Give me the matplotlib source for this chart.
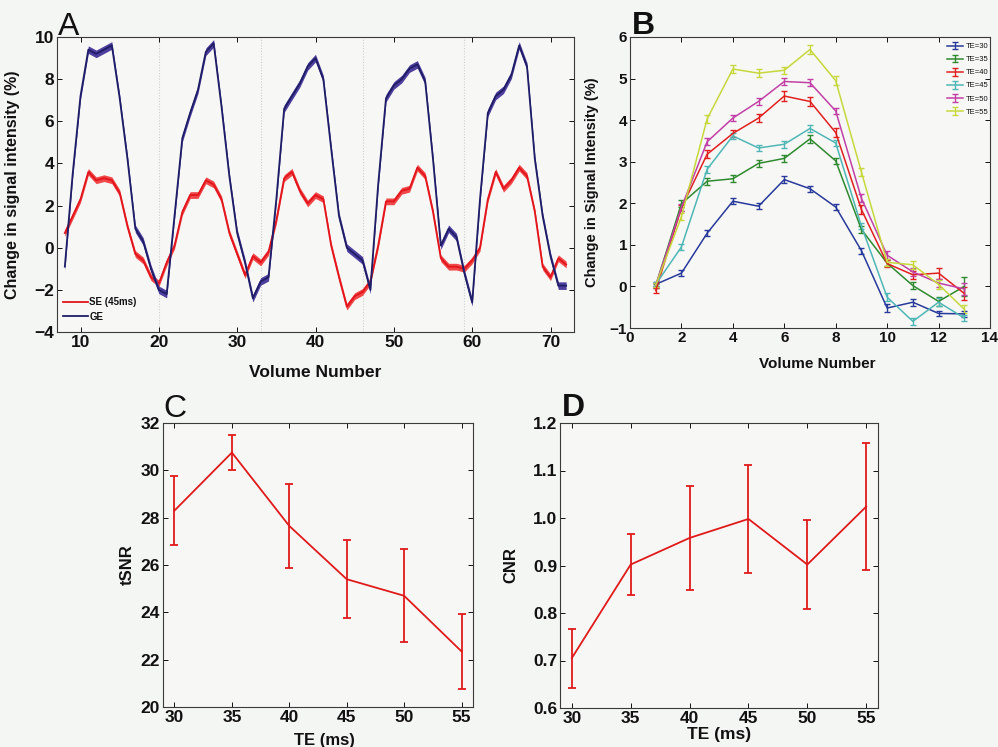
import numpy as np
import matplotlib
matplotlib.use("Agg")
import matplotlib.pyplot as plt

# ---------------- data ----------------
# Panel A: averaged time courses (percent signal change) per volume
volumes = list(range(8, 73))
se_signal = [0.7, 1.5, 2.3, 3.6, 3.2, 3.3, 3.2, 2.6, 1.0, -0.3, -0.6, -1.4, -1.7,
             -0.7, 0.1, 1.7, 2.5, 2.5, 3.2, 3.0, 2.3, 0.7, -0.3, -1.3, -0.4, -0.7,
             -0.2, 1.3, 3.3, 3.6, 2.7, 2.1, 2.5, 2.3, 0.1, -1.4, -2.8, -2.3, -2.1,
             -1.6, 0.1, 2.2, 2.2, 2.7, 2.8, 3.8, 3.4, 1.7, -0.5, -0.9, -0.9, -1.0,
             -0.6, 0.0, 2.3, 3.6, 2.8, 3.2, 3.8, 3.4, 1.7, -0.9, -1.4, -0.5, -0.8]
ge_signal = [-0.9, 3.5, 7.2, 9.4, 9.2, 9.4, 9.6, 7.1, 4.2, 0.9, 0.3, -1.0, -2.0,
             -2.2, 1.5, 5.2, 6.4, 7.5, 9.3, 9.7, 6.7, 3.4, 0.7, -0.7, -2.4, -1.6,
             -1.4, 2.3, 6.6, 7.2, 7.8, 8.6, 9.0, 8.0, 4.7, 1.5, 0.0, -0.3, -0.6,
             -2.0, 3.0, 7.1, 7.7, 8.0, 8.5, 8.7, 7.9, 4.2, 0.1, 0.9, 0.5, -1.2,
             -2.6, 2.3, 6.4, 7.2, 7.5, 8.2, 9.6, 8.6, 4.2, 1.5, -0.4, -1.8, -1.8]
se_sem = 0.16
ge_sem = 0.18
block_onsets = [20, 33, 46, 59]

# Panel B: normalised response per echo time
b_volumes = list(range(1, 14))
te_labels = ["TE=30", "TE=35", "TE=40", "TE=45", "TE=50", "TE=55"]
te30 = [0.05, 0.32, 1.28, 2.05, 1.93, 2.57, 2.35, 1.91, 0.86, -0.52, -0.38, -0.65, -0.66]
te35 = [0.02, 1.99, 2.53, 2.59, 2.96, 3.08, 3.55, 3.02, 1.37, 0.56, 0.02, -0.36, 0.0]
te40 = [-0.10, 1.89, 3.18, 3.68, 4.05, 4.58, 4.45, 3.70, 1.85, 0.55, 0.28, 0.32, -0.17]
te45 = [0.05, 0.95, 2.82, 3.62, 3.33, 3.42, 3.80, 3.45, 1.45, -0.26, -0.84, -0.38, -0.76]
te50 = [0.03, 1.90, 3.48, 4.05, 4.45, 4.93, 4.90, 4.22, 2.12, 0.75, 0.35, 0.08, -0.06]
te55 = [0.03, 1.68, 4.03, 5.23, 5.13, 5.20, 5.70, 4.95, 2.75, 0.58, 0.52, 0.05, -0.55]
err30 = [0.05, 0.08, 0.07, 0.07, 0.07, 0.08, 0.07, 0.07, 0.07, 0.09, 0.08, 0.07, 0.07]
err35 = [0.05, 0.08, 0.08, 0.08, 0.08, 0.08, 0.09, 0.08, 0.08, 0.08, 0.09, 0.10, 0.22]
err40 = [0.06, 0.08, 0.09, 0.09, 0.10, 0.11, 0.10, 0.10, 0.10, 0.09, 0.10, 0.13, 0.16]
err45 = [0.05, 0.08, 0.08, 0.08, 0.07, 0.08, 0.09, 0.08, 0.08, 0.09, 0.09, 0.10, 0.08]
err50 = [0.05, 0.08, 0.08, 0.08, 0.08, 0.08, 0.08, 0.08, 0.10, 0.10, 0.10, 0.10, 0.15]
err55 = [0.05, 0.08, 0.09, 0.09, 0.09, 0.09, 0.10, 0.10, 0.10, 0.09, 0.10, 0.10, 0.10]
te_colors = ["#27399a", "#2f8a2f", "#e21f1f", "#4fb6b6", "#c23fa6", "#c6d83a"]

# Panels C and D: tSNR and CNR against echo time
echo_times = [30, 35, 40, 45, 50, 55]
tsnr = [28.3, 30.75, 27.65, 25.4, 24.7, 22.35]
tsnr_err = [1.45, 0.75, 1.78, 1.65, 1.97, 1.6]
cnr = [0.705, 0.902, 0.958, 0.998, 0.902, 1.024]
cnr_err = [0.062, 0.064, 0.11, 0.114, 0.094, 0.134]

# ---------------- style ----------------
BG = "#f4f6f3"
INK = "#111111"
plt.rcParams["font.family"] = ["Liberation Sans", "DejaVu Sans"]
plt.rcParams["font.weight"] = "bold"
plt.rcParams["text.color"] = INK
plt.rcParams["axes.labelcolor"] = INK
plt.rcParams["axes.labelweight"] = "bold"
plt.rcParams["xtick.color"] = INK
plt.rcParams["ytick.color"] = INK

W, H = 998, 747
fig = plt.figure(figsize=(W / 100, H / 100), dpi=100, facecolor=BG)


def make_axes(left, top, right, bottom):
    ax = fig.add_axes([left / W, 1 - bottom / H, (right - left) / W, (bottom - top) / H])
    ax.set_facecolor("#f7f8f6")
    for s in ax.spines.values():
        s.set_color("#3a3a3a")
        s.set_linewidth(0.8)
    ax.tick_params(direction="in", top=True, right=True, length=3.5, width=0.7)
    return ax


# ---------------- panel A ----------------
axA = make_axes(57, 37, 574, 332)
for xv in block_onsets:
    axA.axvline(xv, color="#cfcfcf", lw=0.8, ls=(0, (1, 1.5)), zorder=0)
vol = np.array(volumes)
se = np.array(se_signal)
ge = np.array(ge_signal)
axA.fill_between(vol, se - se_sem, se + se_sem, color="#f04848", lw=0, zorder=2)
axA.plot(vol, se, color="#e3141c", lw=1.3, label="SE (45ms)", zorder=3)
axA.fill_between(vol, ge - ge_sem, ge + ge_sem, color="#4e3f9e", lw=0, zorder=4)
axA.plot(vol, ge, color="#1f1d66", lw=1.3, label="GE", zorder=5)
axA.set_xlim(7, 73)
axA.set_ylim(-4, 10)
axA.set_xticks([10, 20, 30, 40, 50, 60, 70])
axA.set_yticks([-4, -2, 0, 2, 4, 6, 8, 10])
axA.tick_params(labelsize=12.5, pad=2)
axA.set_xlabel("Volume Number", fontsize=12.5)
axA.xaxis.set_label_coords(0.5, -0.112)
axA.set_ylabel("Change in signal intensity (%)", fontsize=11.5)
axA.yaxis.set_label_coords(-0.072, 0.5)
axA.legend(loc="lower left", bbox_to_anchor=(0.012, 0.035), frameon=False,
           fontsize=7, handlelength=2.6, handletextpad=0.1, labelspacing=0.45,
           borderpad=0, borderaxespad=0)
fig.text(58 / W, 1 - 35 / H, "A", fontsize=23, ha="left", va="baseline", fontweight="normal")

# ---------------- panel B ----------------
axB = make_axes(630, 37, 990, 328)
series_b = [te30, te35, te40, te45, te50, te55]
errs_b = [err30, err35, err40, err45, err50, err55]
for vals, errs, col, lab in zip(series_b, errs_b, te_colors, te_labels):
    axB.errorbar(b_volumes, vals, yerr=errs, color=col, lw=1.1, elinewidth=1.0,
                 capsize=2, capthick=1.0, label=lab)
axB.set_xlim(0, 14)
axB.set_ylim(-1, 6)
axB.set_xticks(range(0, 15, 2))
axB.set_yticks(range(-1, 7))
axB.tick_params(labelsize=11, pad=2)
axB.set_xlabel("Volume Number", fontsize=11)
axB.xaxis.set_label_coords(0.52, -0.1)
axB.set_ylabel("Change in Signal Intensity (%)", fontsize=10.5)
axB.yaxis.set_label_coords(-0.085, 0.5)
legB = axB.legend(loc="upper right", bbox_to_anchor=(1.0, 0.985), frameon=False, fontsize=5.5,
                  handlelength=2.2, handletextpad=0.3, labelspacing=0.75, borderpad=0.2,
                  borderaxespad=0)
for t in legB.get_texts():
    t.set_fontweight("normal")
fig.text(632 / W, 1 - 34 / H, "B", fontsize=23, ha="left", va="baseline")

# ---------------- panel C ----------------
axC = make_axes(163, 423, 473, 707)
axC.errorbar(echo_times, tsnr, yerr=tsnr_err, color="#e01a1a", lw=1.3, elinewidth=1.3,
             capsize=3, capthick=1.3)
axC.set_xlim(29, 56)
axC.set_ylim(20, 32)
axC.set_xticks(echo_times)
axC.set_yticks(range(20, 33, 2))
axC.tick_params(labelsize=12.5, pad=2)
axC.set_xlabel("TE (ms)", fontsize=12)
axC.xaxis.set_label_coords(0.52, -0.092)
axC.set_ylabel("tSNR", fontsize=12)
axC.yaxis.set_label_coords(-0.09, 0.5)
fig.text(163 / W, 1 - 417 / H, "C", fontsize=23, ha="left", va="baseline", fontweight="normal")

# ---------------- panel D ----------------
axD = make_axes(560, 423, 878, 708)
axD.errorbar(echo_times, cnr, yerr=cnr_err, color="#e01a1a", lw=1.3, elinewidth=1.3,
             capsize=3, capthick=1.3)
axD.set_xlim(29, 56)
axD.set_ylim(0.6, 1.2)
axD.set_xticks(echo_times)
axD.set_yticks([0.6, 0.7, 0.8, 0.9, 1.0, 1.1, 1.2])
axD.set_yticklabels(["0.6", "0.7", "0.8", "0.9", "1.0", "1.1", "1.2"])
axD.tick_params(labelsize=12.5, pad=2)
axD.set_xlabel("TE (ms)", fontsize=12.5)
axD.xaxis.set_label_coords(0.5, -0.068)
axD.set_ylabel("CNR", fontsize=12)
axD.yaxis.set_label_coords(-0.13, 0.5)
fig.text(562 / W, 1 - 416 / H, "D", fontsize=23, ha="left", va="baseline")

fig.savefig("out.png", dpi=100, facecolor=BG)
